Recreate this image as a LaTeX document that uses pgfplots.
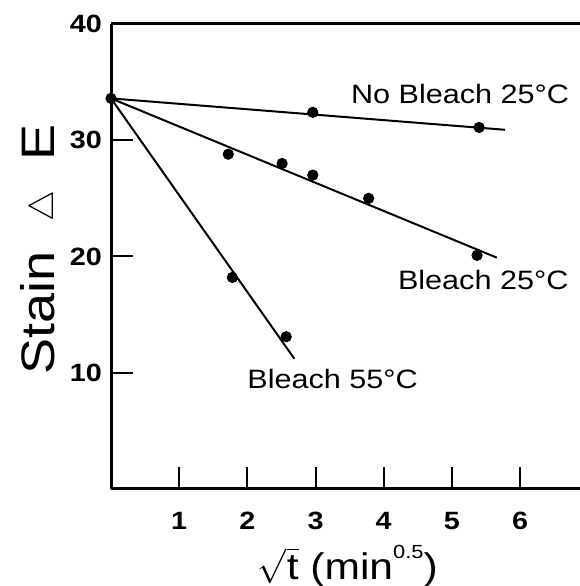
\documentclass[border=0pt]{standalone}
\usepackage{amsmath}
\usepackage{fontspec}
\setmainfont{Liberation Sans}[FakeStretch=1.15]
\usepackage{pgfplots}
\pgfplotsset{compat=1.18}
\usetikzlibrary{calc}

\begin{document}
\begin{tikzpicture}
\begin{axis}[
  name=ax,
  scale only axis,
  width=234.5pt, height=232.5pt,
  xmin=0, xmax=6.88,
  ymin=0, ymax=40,
  axis lines=left,
  axis line style={-, line width=1.5pt},
  xtick={1,2,3,4,5,6},
  ytick={10,20,30,40},
  tick align=inside,
  major tick length=11pt,
  tick style={line width=1pt, black},
  /pgf/number format/assume math mode=true,
  ticklabel style={font=\fontsize{12.5}{15}\selectfont\bfseries},
  xticklabel style={yshift=-8pt},
  yticklabel style={xshift=-1pt},
  xlabel={$\sqrt{\text{t}}$ (min\raisebox{1.1ex}{\fontsize{9.5}{11}\selectfont 0.5})},
  ylabel={Stain\ \ \raisebox{0.05ex}{\fontsize{19}{22}\selectfont$\triangle$}\ \ E},
  xlabel style={font=\fontsize{18.5}{22}\selectfont, at={(axis description cs:0.505,0)}, anchor=center, yshift=-38.5pt},
  ylabel style={font=\fontsize{23.5}{28}\selectfont, at={(axis description cs:0,0.515)}, anchor=center, yshift=35.5pt},
  clip=false,
]
% fitted lines
\addplot[black, line width=1pt] coordinates {(0,33.6) (5.78,30.9)};
\addplot[black, line width=1pt] coordinates {(0,33.6) (5.66,19.9)};
\addplot[black, line width=1pt] coordinates {(0,33.6) (2.69,11.2)};
% measured points
\addplot[only marks, mark=*, mark size=2.6pt, black] coordinates {(0,33.6)};
\addplot[only marks, mark=*, mark size=2.6pt, black] coordinates {(2.96,32.4) (5.4,31.1)};
\addplot[only marks, mark=*, mark size=2.6pt, black] coordinates {(1.72,28.8) (2.51,28.0) (2.96,27.0) (3.78,25.0) (5.37,20.1)};
\addplot[only marks, mark=*, mark size=2.6pt, black] coordinates {(1.78,18.2) (2.57,13.1)};
\draw[line width=1.5pt] (rel axis cs:0,1) -- (rel axis cs:1,1);
\node[font=\fontsize{13.3}{16}\selectfont] at (axis cs:5.12,34.0) {No Bleach 25°C};
\node[font=\fontsize{13.3}{16}\selectfont] at (axis cs:5.46,18.0) {Bleach 25°C};
\node[font=\fontsize{13.3}{16}\selectfont] at (axis cs:3.25,9.46) {Bleach 55°C};
\end{axis}
\pgfresetboundingbox
\path[use as bounding box] ($(ax.south west)+(-55.5pt,-48.5pt)$) rectangle ($(ax.north east)+(0,12pt)$);
\end{tikzpicture}
\end{document}
